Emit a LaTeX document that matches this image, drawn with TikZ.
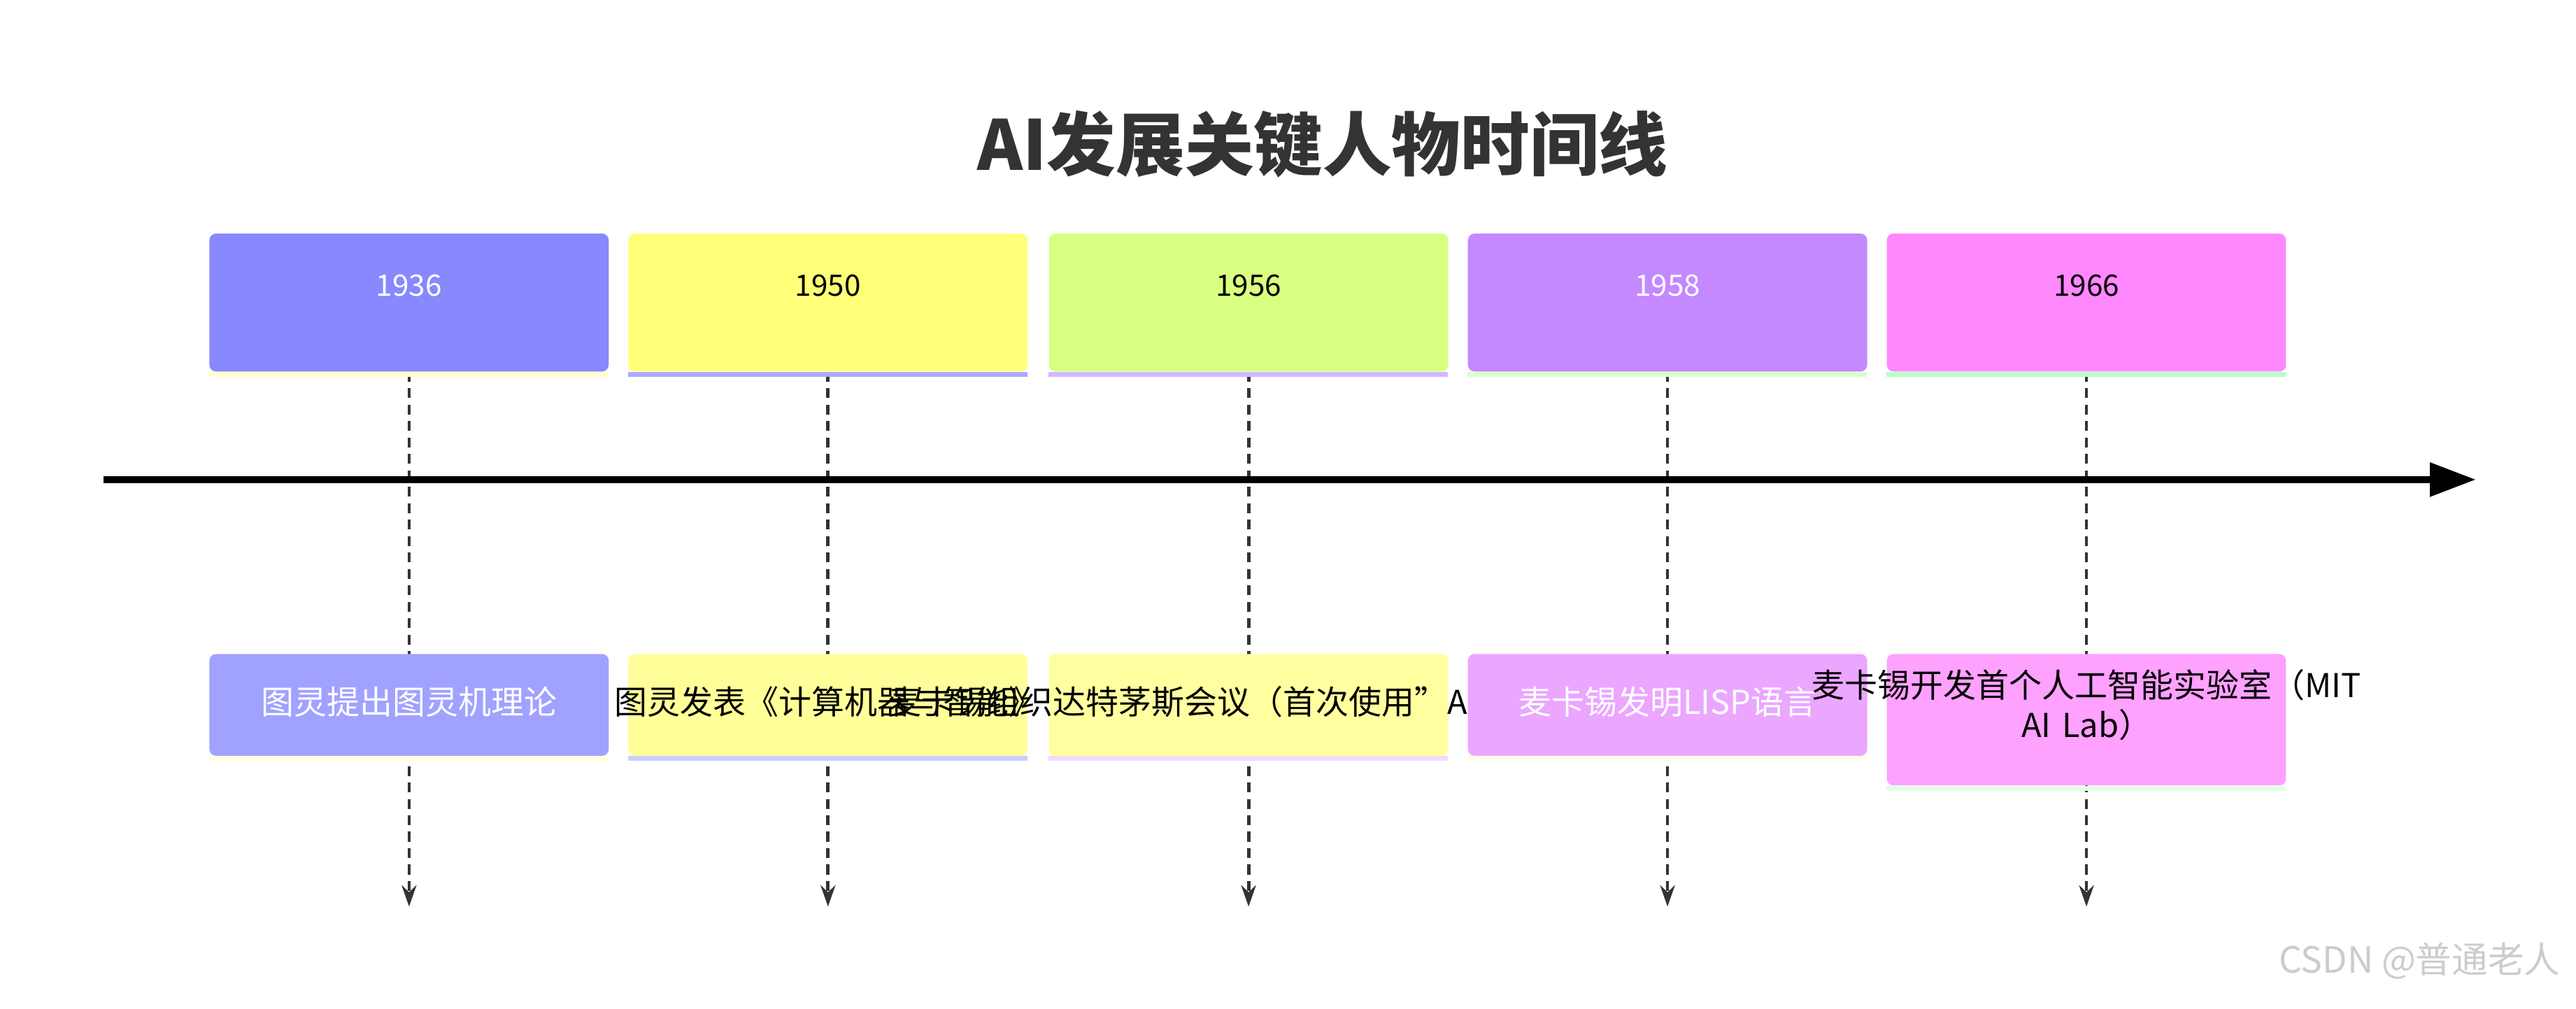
\documentclass[tikz,border=0pt]{standalone}
\usepackage{fontspec}
\setmainfont{Noto Sans CJK SC}
\usetikzlibrary{arrows.meta,backgrounds}

\definecolor{yA}{HTML}{8888FF}\definecolor{sA}{HTML}{FFFFCC}
\definecolor{yB}{HTML}{FFFF78}\definecolor{sB}{HTML}{AAAAFF}
\definecolor{yC}{HTML}{D9FF80}\definecolor{sC}{HTML}{D4B8FF}
\definecolor{yD}{HTML}{C488FF}\definecolor{sD}{HTML}{D9FFCC}
\definecolor{yE}{HTML}{FF88FF}\definecolor{sE}{HTML}{B8FFC8}
\definecolor{eA}{HTML}{A1A1FF}\definecolor{tA}{HTML}{FFFFDD}
\definecolor{eB}{HTML}{FFFF99}\definecolor{tB}{HTML}{CCCCFF}
\definecolor{eC}{HTML}{FFFFA0}\definecolor{tC}{HTML}{F5D9FF}
\definecolor{eD}{HTML}{EBA6FF}\definecolor{tD}{HTML}{FFFDE6}
\definecolor{eE}{HTML}{FFA1FF}\definecolor{tE}{HTML}{E0FFE6}
\definecolor{ink}{HTML}{333333}

\tikzset{
  yearbox/.style={minimum width=243pt, minimum height=84pt, rounded corners=4pt, inner sep=0pt, anchor=north},
  eventbox/.style={minimum width=243pt, rounded corners=4pt, inner sep=0pt, anchor=north},
  yeartext/.style={font=\fontsize{18}{21}\selectfont, inner sep=0pt},
  eventtext/.style={font=\fontsize{20}{24}\selectfont, inner sep=0pt, align=center},
  guide/.style={ink, line width=2pt, dash pattern=on 6pt off 4pt, -{Stealth[length=13pt,width=9pt]}}
}

\begin{document}
\begin{tikzpicture}[x=1pt,y=-1pt]
\useasboundingbox (0,0) rectangle (1568,614);

\node[font=\bfseries\fontsize{42}{48}\selectfont, text=ink] (title) at (805,88) {AI发展关键人物时间线};

% year boxes
\foreach \i/\x/\yr/\cf/\cs/\tc in {1/249/1936/yA/sA/white, 2/504/1950/yB/sB/black, 3/760/1956/yC/sC/black, 4/1015/1958/yD/sD/white, 5/1270/1966/yE/sE/black}{
  \node[yearbox, fill=\cf] (yb\i) at (\x,142) {};
  \fill[\cs] (yb\i.south west) rectangle ++(243,3);
  \node[yeartext, text=\tc] (yt\i) at ([yshift=-32pt]yb\i.north) {\yr};
}

% event boxes
\node[eventbox, fill=eA, minimum height=62pt] (ev1) at (249,398) {};
\fill[tA] (ev1.south west) rectangle ++(243,3);
\node[eventtext, text=white] (et1) at ([yshift=2pt]ev1) {图灵提出图灵机理论};
\node[eventbox, fill=eB, minimum height=62pt] (ev2) at (504,398) {};
\fill[tB] (ev2.south west) rectangle ++(243,3);
\node[eventtext] (et2) at ([yshift=2pt]ev2) {图灵发表《计算机器与智能》};
\node[eventbox, fill=eC, minimum height=62pt] (ev3) at (760,398) {};
\fill[tC] (ev3.south west) rectangle ++(243,3);
\node[eventtext] (et3) at ([yshift=2pt]ev3) {麦卡锡组织达特茅斯会议（首次使用\char"22 AI\char"22 术语）};
\node[eventbox, fill=eD, minimum height=62pt] (ev4) at (1015,398) {};
\fill[tD] (ev4.south west) rectangle ++(243,3);
\node[eventtext, text=white] (et4) at ([yshift=2pt]ev4) {麦卡锡发明LISP语言};
\node[eventbox, fill=eE, minimum height=80pt] (ev5) at (1270,398) {};
\fill[tE] (ev5.south west) rectangle ++(243,3);
\node[eventtext, text width=345pt] (et5) at ([yshift=9pt]ev5) {麦卡锡开发首个人工智能实验室（MIT AI Lab）};

% guides behind boxes
\begin{pgfonlayer}{background}
\foreach \i/\x in {1/249, 2/504, 3/760, 4/1015, 5/1270}{
  \coordinate (end\i) at (\x,552);
  \draw[guide] (yb\i.south) -- (end\i);
}
\end{pgfonlayer}

% axis
\coordinate (axstart) at (63,292);
\coordinate (axend) at (1507,292);
\draw[line width=4pt, -{Triangle[length=28pt,width=20pt]}, draw=black, fill=ink] (axstart) -- (axend);

\node[text=black!20, font=\fontsize{22}{26}\selectfont, anchor=east] (mark) at (1562,585) {CSDN @普通老人};
\end{tikzpicture}
\end{document}
